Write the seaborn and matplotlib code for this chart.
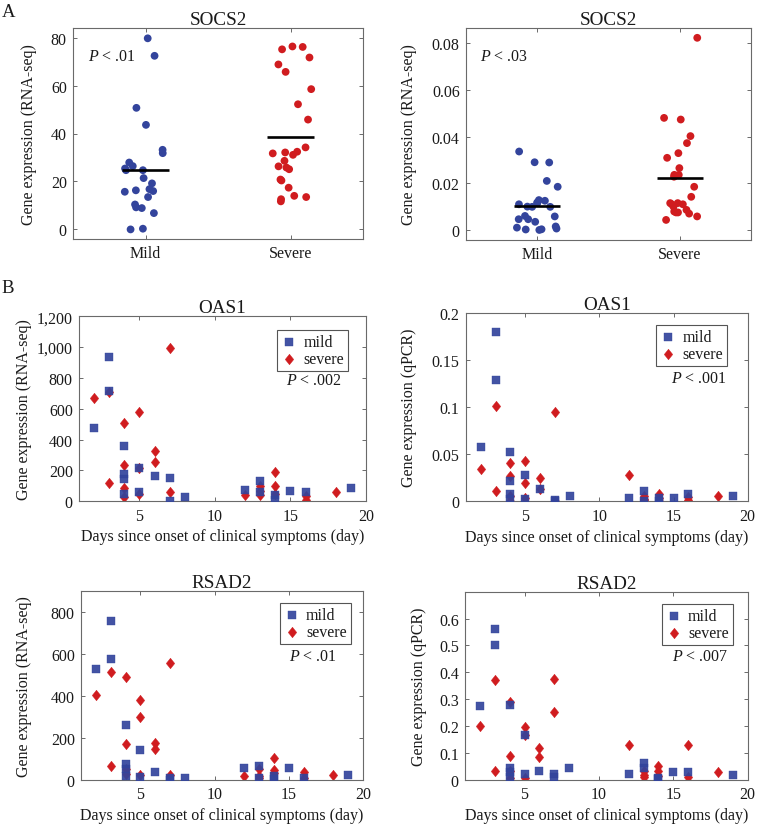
import numpy as np
import pandas as pd
import matplotlib
matplotlib.use("Agg")
import matplotlib.pyplot as plt
import seaborn as sns

# ---------------- data ----------------
groups = ["Mild", "Severe"]

socs2_rnaseq_mild = [79.7, 72.4, 50.7, 43.6, 33.2, 31.8, 27.9, 26.4, 24.7, 24.7, 25.4, 21.4,
                     19.2, 16.3, 16.0, 16.8, 15.7, 13.5, 10.4, 8.9, 9.2, 6.8, 0.3, 0.0]
socs2_rnaseq_severe = [76.3, 76.1, 75.1, 68.8, 65.7, 71.7, 58.5, 52.2, 45.8, 34.2, 32.1, 31.7,
                       32.4, 31.1, 28.6, 26.3, 25.8, 25.1, 20.8, 20.4, 17.4, 13.5, 14.0, 12.6, 11.7]
socs2_qpcr_mild = [0.0337, 0.0290, 0.0291, 0.0211, 0.0186, 0.0129, 0.0116, 0.0111, 0.0101, 0.0119,
                   0.0126, 0.0100, 0.0100, 0.0047, 0.0047, 0.0059, 0.0061, 0.0036, 0.0016, 0.0011,
                   0.0004, 0.0007, 0.0003, 0.0001]
socs2_qpcr_severe = [0.0824, 0.0481, 0.0474, 0.0403, 0.0373, 0.0330, 0.0310, 0.0266, 0.0237, 0.0237,
                     0.0229, 0.0186, 0.0143, 0.0111, 0.0111, 0.0116, 0.0116, 0.0101, 0.0087, 0.0080,
                     0.0076, 0.0071, 0.0076, 0.0059, 0.0044]

mild_days = [2, 3, 3, 4, 4, 4, 4, 5, 5, 6, 7, 7, 8, 12, 13, 13, 14, 14, 15, 16, 19]
severe_days = [2, 3, 3, 4, 4, 4, 4, 5, 5, 5, 6, 6, 7, 7, 12, 13, 13, 13, 14, 14, 14, 16, 16, 18]

oas1_rnaseq_mild = [473, 935, 715, 359, 177, 145, 47, 218, 63, 166, 149, 2, 30, 74, 134, 63, 41, 9,
                    65, 62, 88]
oas1_rnaseq_severe = [668, 707, 117, 510, 236, 86, 28, 581, 218, 47, 328, 253, 993, 58, 43, 101, 69,
                      40, 192, 101, 47, 36, 10, 58]
oas1_qpcr_mild = [0.058, 0.1795, 0.1288, 0.0524, 0.0216, 0.0078, 0.0025, 0.0276, 0.0025, 0.0131,
                  0.0017, 0.0005, 0.006, 0.0032, 0.0113, 0.0007, 0.003, 0.0005, 0.0032, 0.0078, 0.0053]
oas1_qpcr_severe = [0.034, 0.1009, 0.0106, 0.0407, 0.0273, 0.006, 0.0003, 0.0425, 0.0191, 0.0032,
                    0.0248, 0.0131, 0.0945, 0.0007, 0.028, 0.0053, 0.0025, 0.001, 0.0078, 0.003,
                    0.0003, 0.005, 0.0014, 0.0053]
rsad2_rnaseq_mild = [529, 757, 577, 263, 75, 51, 20, 143, 15, 38, 8, 0, 9, 56, 67, 8, 18, 3, 54, 8, 22]
rsad2_rnaseq_severe = [405, 513, 64, 489, 171, 51, 27, 382, 301, 22, 174, 147, 556, 22, 16, 51, 19,
                       10, 102, 48, 30, 38, 10, 22]
rsad2_qpcr_mild = [0.275, 0.560, 0.501, 0.278, 0.045, 0.030, 0.010, 0.165, 0.021, 0.032, 0.021, 0.009,
                   0.044, 0.021, 0.062, 0.045, 0.006, 0.003, 0.027, 0.029, 0.018]
rsad2_qpcr_severe = [0.201, 0.370, 0.034, 0.290, 0.089, 0.034, 0.005, 0.197, 0.168, 0.005, 0.118,
                     0.083, 0.374, 0.253, 0.130, 0.033, 0.018, 0.010, 0.052, 0.034, 0.015, 0.129,
                     0.010, 0.030]

series_labels = ["mild", "severe"]

socs2_rnaseq_ticks = [0, 20, 40, 60, 80]
socs2_rnaseq_ticklabels = ["0", "20", "40", "60", "80"]
socs2_qpcr_ticks = [0, 0.02, 0.04, 0.06, 0.08]
socs2_qpcr_ticklabels = ["0", "0.02", "0.04", "0.06", "0.08"]
oas1_rnaseq_ticks = [0, 200, 400, 600, 800, 1000, 1200]
oas1_rnaseq_ticklabels = ["0", "200", "400", "600", "800", "1,000", "1,200"]
oas1_qpcr_ticks = [0, 0.05, 0.1, 0.15, 0.2]
oas1_qpcr_ticklabels = ["0", "0.05", "0.1", "0.15", "0.2"]
rsad2_rnaseq_ticks = [0, 200, 400, 600, 800]
rsad2_rnaseq_ticklabels = ["0", "200", "400", "600", "800"]
rsad2_qpcr_ticks = [0, 0.1, 0.2, 0.3, 0.4, 0.5, 0.6]
rsad2_qpcr_ticklabels = ["0", "0.1", "0.2", "0.3", "0.4", "0.5", "0.6"]
day_ticks = [5, 10, 15, 20]
day_ticklabels = ["5", "10", "15", "20"]

# ---------------- style ----------------
sns.set_style("white")
plt.rcParams.update({
    "font.family": ["Liberation Serif", "DejaVu Serif"],
    "font.size": 11.5,
    "mathtext.fontset": "custom",
    "mathtext.rm": "Liberation Serif",
    "mathtext.it": "Liberation Serif:italic",
    "axes.edgecolor": "#6a6a6a",
    "axes.linewidth": 0.8,
    "xtick.direction": "in",
    "ytick.direction": "in",
    "xtick.top": True,
    "ytick.right": True,
    "xtick.bottom": True,
    "ytick.left": True,
    "xtick.major.size": 3,
    "ytick.major.size": 3,
    "xtick.major.width": 0.7,
    "ytick.major.width": 0.7,
    "xtick.color": "#6a6a6a",
    "ytick.color": "#6a6a6a",
    "xtick.labelcolor": "#1a1a1a",
    "ytick.labelcolor": "#1a1a1a",
    "xtick.major.pad": 4.5,
    "ytick.major.pad": 4.5,
    "text.color": "#1a1a1a",
    "axes.labelcolor": "#1a1a1a",
})

BLUE = "#33449c"
RED = "#d01c1f"
DIAMOND = [(0, 1), (0.8, 0), (0, -1), (-0.8, 0), (0, 1)]

W, H = 761, 829
fig = plt.figure(figsize=(W / 100, H / 100), dpi=100)


def rect(x0, y0, x1, y1):
    return [x0 / W, 1 - y1 / H, (x1 - x0) / W, (y1 - y0) / H]


def strip_panel(r, mild, severe, ticks, ticklabels, ylim, ylabel, ylab_x, ptext, seed):
    ax = fig.add_axes(r)
    df = pd.DataFrame({"group": [groups[0]] * len(mild) + [groups[1]] * len(severe),
                       "value": list(mild) + list(severe)})
    np.random.seed(seed)
    sns.stripplot(data=df, x="group", y="value", hue="group", order=groups, hue_order=groups,
                  palette=[BLUE, RED], jitter=0.15, size=5.6, linewidth=0, legend=False,
                  ax=ax, zorder=2)
    for i, g in enumerate(groups):
        m = df.loc[df["group"] == g, "value"].mean()
        ax.hlines(m, i - 0.16, i + 0.16, color="black", lw=1.9, zorder=3)
    ax.set_xlim(-0.5, 1.5)
    ax.set_ylim(*ylim)
    ax.set_yticks(ticks, ticklabels)
    ax.set_xticks([0, 1], groups)
    ax.set_xlabel("")
    ax.set_ylabel(ylabel)
    ax.yaxis.set_label_coords(ylab_x, 0.5)
    ax.set_title("SOCS2", pad=3)
    ax.text(0.05, 0.867, ptext, transform=ax.transAxes, ha="left", va="center")
    return ax


def scatter_panel(r, title, mvals, svals, ticks, ticklabels, ylim, ylabel, ylab_x,
                  ptext, ptx, leg_anchor):
    ax = fig.add_axes(r)
    sns.scatterplot(x=severe_days, y=svals, marker=DIAMOND, color=RED, s=58,
                    edgecolor=RED, linewidth=0.3, label=series_labels[1], ax=ax, zorder=2)
    sns.scatterplot(x=mild_days, y=mvals, marker="s", color=BLUE, s=27,
                    edgecolor=BLUE, linewidth=0.3, alpha=0.92, label=series_labels[0],
                    ax=ax, zorder=3)
    h, l = ax.get_legend_handles_labels()
    order = [l.index(series_labels[0]), l.index(series_labels[1])]
    leg = ax.legend([h[i] for i in order], [l[i] for i in order], loc="upper right",
                    bbox_to_anchor=leg_anchor, borderaxespad=0, frameon=True, fancybox=False,
                    edgecolor="#555555", framealpha=1, handlelength=1.0, handletextpad=0.4,
                    borderpad=0.25, labelspacing=0.05, scatterpoints=1, fontsize=11.5)
    leg.get_frame().set_linewidth(0.8)
    ax.set_xlim(1, 20)
    ax.set_ylim(*ylim)
    ax.set_xticks(day_ticks, day_ticklabels)
    ax.set_yticks(ticks, ticklabels)
    ax.set_xlabel("Days since onset of clinical symptoms (day)")
    ax.xaxis.set_label_coords(0.5, -0.145)
    ax.set_ylabel(ylabel)
    ax.yaxis.set_label_coords(ylab_x, 0.5)
    ax.set_title(title, pad=3)
    ax.text(ptx, 0.656, ptext, transform=ax.transAxes, ha="right", va="center")
    return ax


strip_panel(rect(73, 29, 363, 240), socs2_rnaseq_mild, socs2_rnaseq_severe,
            socs2_rnaseq_ticks, socs2_rnaseq_ticklabels, (-4, 84),
            "Gene expression (RNA-seq)", -0.125, r"$P$ < .01", 3)
strip_panel(rect(466, 29, 751, 241), socs2_qpcr_mild, socs2_qpcr_severe,
            socs2_qpcr_ticks, socs2_qpcr_ticklabels, (-0.0042, 0.0866),
            "Gene expression (RNA-seq)", -0.172, r"$P$ < .03", 7)

scatter_panel(rect(79, 317.3, 366, 502.3), "OAS1", oas1_rnaseq_mild, oas1_rnaseq_severe,
              oas1_rnaseq_ticks, oas1_rnaseq_ticklabels, (0, 1200),
              "Gene expression (RNA-seq)", -0.164, r"$P$ < .002", 0.916, (0.937, 0.926))
scatter_panel(rect(466, 314, 747.7, 502.3), "OAS1", oas1_qpcr_mild, oas1_qpcr_severe,
              oas1_qpcr_ticks, oas1_qpcr_ticklabels, (0, 0.2),
              "Gene expression (qPCR)", -0.174, r"$P$ < .001", 0.927, (0.928, 0.936))
scatter_panel(rect(81, 592.3, 363, 780.7), "RSAD2", rsad2_rnaseq_mild, rsad2_rnaseq_severe,
              rsad2_rnaseq_ticks, rsad2_rnaseq_ticklabels, (0, 900),
              "Gene expression (RNA-seq)", -0.174, r"$P$ < .01", 0.908, (0.956, 0.936))
scatter_panel(rect(465, 592.7, 747.7, 780.7), "RSAD2", rsad2_qpcr_mild, rsad2_qpcr_severe,
              rsad2_qpcr_ticks, rsad2_qpcr_ticklabels, (0, 0.7),
              "Gene expression (qPCR)", -0.134, r"$P$ < .007", 0.930, (0.947, 0.935))

fig.text(2 / W, 1 - 12.5 / H, "A", ha="left", va="center", fontsize=13.5)
fig.text(1 / W, 1 - 288.5 / H, "B", ha="left", va="center", fontsize=13.5)

fig.savefig("out.png", dpi=100)
